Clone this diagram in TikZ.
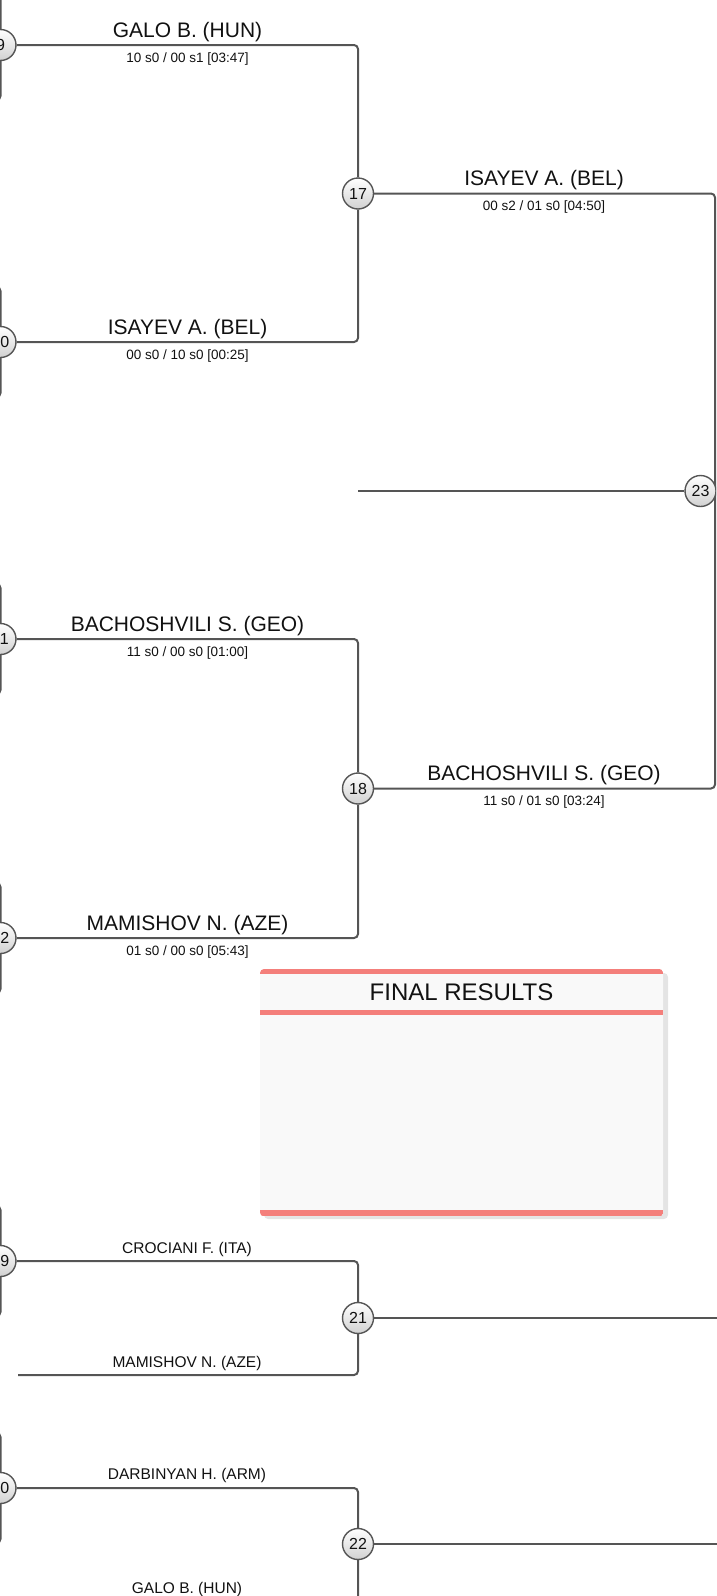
\documentclass[tikz,border=0pt]{standalone}
\usepackage{fontspec}
\setmainfont{Liberation Sans}
\usetikzlibrary{calc}
\definecolor{lncol}{HTML}{555555}
\definecolor{salmon}{HTML}{F47F7B}
\definecolor{boxfill}{HTML}{F9F9F9}
\definecolor{shadowc}{HTML}{E4E4E4}
\definecolor{txt}{HTML}{111111}
\pgfdeclarelayer{bg}
\pgfsetlayers{bg,main}
\begin{document}
\begin{tikzpicture}[x=1pt,y=-1pt,
  ln/.style={draw=lncol,line width=2pt,rounded corners=4pt},
  mc/.style={circle,draw=lncol,line width=1.4pt,minimum size=31pt,inner sep=0pt,
    top color=white,bottom color=black!18,font=\fontsize{16}{16}\selectfont,text=txt},
  big/.style={anchor=base,font=\fontsize{21}{24}\selectfont,text=txt,inner sep=0pt},
  sc/.style={anchor=base,font=\fontsize{13.5}{16}\selectfont,text=txt,inner sep=0pt},
  sm/.style={anchor=base,font=\fontsize{15.5}{18}\selectfont,text=txt,inner sep=0pt}]
\useasboundingbox (0,0) rectangle (716,1596);
\clip (0,0) rectangle (716,1596);
% circles
\node[mc] (c9) at (0.5,45) {9};
\node[mc] (c10) at (0.5,342) {10};
\node[mc] (c11) at (0.5,639) {11};
\node[mc] (c12) at (0.5,938) {12};
\node[mc] (c19) at (0.5,1261) {19};
\node[mc] (c20) at (0.5,1488) {20};
\node[mc] (c17) at (358,193.5) {17};
\node[mc] (c18) at (358,788.5) {18};
\node[mc] (c21) at (358,1318) {21};
\node[mc] (c22) at (358,1544) {22};
\node[mc] (c23) at (700.5,491) {23};
\coordinate (r23) at (715,491);
\coordinate (s23) at (358,491);
\coordinate (m21) at (18,1375);
\coordinate (g22) at (18,1601);
\coordinate (e21) at (730,1318);
\coordinate (e22) at (730,1544);
\begin{pgfonlayer}{bg}
\draw[ln] (c9.east) -| (c17.north);
\draw[ln] (c10.east) -| (c17.south);
\draw[ln] (c17.east) -| (r23) |- (c18.east);
\draw[ln] (s23) -- (c23.west);
\draw[ln] (c11.east) -| (c18.north);
\draw[ln] (c12.east) -| (c18.south);
\draw[ln] (c19.east) -| (c21.north);
\draw[ln] (m21) -| (c21.south);
\draw[ln] (c21.east) -- (e21);
\draw[ln] (c20.east) -| (c22.north);
\draw[ln] (g22) -| (c22.south);
\draw[ln] (c22.east) -- (e22);
\foreach \c in {c9,c10,c11,c12,c19,c20}{
  \draw[ln] ($(\c)+(-20,-55)$) -| (\c.north);
  \draw[ln] ($(\c)+(-20,55)$) -| (\c.south);
}
\end{pgfonlayer}
% labels
\node[big] (t1) at (187.5,37) {GALO B. (HUN)};
\node[sc] (t1s) at (187.5,62) {10 s0 / 00 s1 [03:47]};
\node[big] (t2) at (187.5,334) {ISAYEV A. (BEL)};
\node[sc] (t2s) at (187.5,359) {00 s0 / 10 s0 [00:25]};
\node[big] (t3) at (544,185.5) {ISAYEV A. (BEL)};
\node[sc] (t3s) at (544,210.5) {00 s2 / 01 s0 [04:50]};
\node[big] (t4) at (187.5,631) {BACHOSHVILI S. (GEO)};
\node[sc] (t4s) at (187.5,656) {11 s0 / 00 s0 [01:00]};
\node[big] (t5) at (544,780.5) {BACHOSHVILI S. (GEO)};
\node[sc] (t5s) at (544,805.5) {11 s0 / 01 s0 [03:24]};
\node[big] (t6) at (187.5,930) {MAMISHOV N. (AZE)};
\node[sc] (t6s) at (187.5,955) {01 s0 / 00 s0 [05:43]};
\node[sm] (t7) at (187,1253) {CROCIANI F. (ITA)};
\node[sm] (t8) at (187,1367) {MAMISHOV N. (AZE)};
\node[sm] (t9) at (187,1479) {DARBINYAN H. (ARM)};
\node[sm] (t10) at (187,1593) {GALO B. (HUN)};
% final results box
\fill[shadowc, rounded corners=4pt] (264,973) rectangle (668,1219);
\node[fill=boxfill, rounded corners=4pt, minimum width=403pt, minimum height=247pt,
  inner sep=0pt, anchor=north west] (fr) at (260,969) {};
\begin{scope}
\clip[rounded corners=4pt] (fr.north west) rectangle (fr.south east);
\fill[salmon] (fr.north west) rectangle ($(fr.north east)+(0,5)$);
\fill[salmon] ($(fr.north west)+(0,41)$) rectangle ($(fr.north east)+(0,46)$);
\fill[salmon] ($(fr.south west)+(0,-6)$) rectangle (fr.south east);
\end{scope}
\node[anchor=base,font=\fontsize{24}{28}\selectfont,text=txt,inner sep=0pt] (frt) at (461.5,1000) {FINAL RESULTS};
\end{tikzpicture}
\end{document}
